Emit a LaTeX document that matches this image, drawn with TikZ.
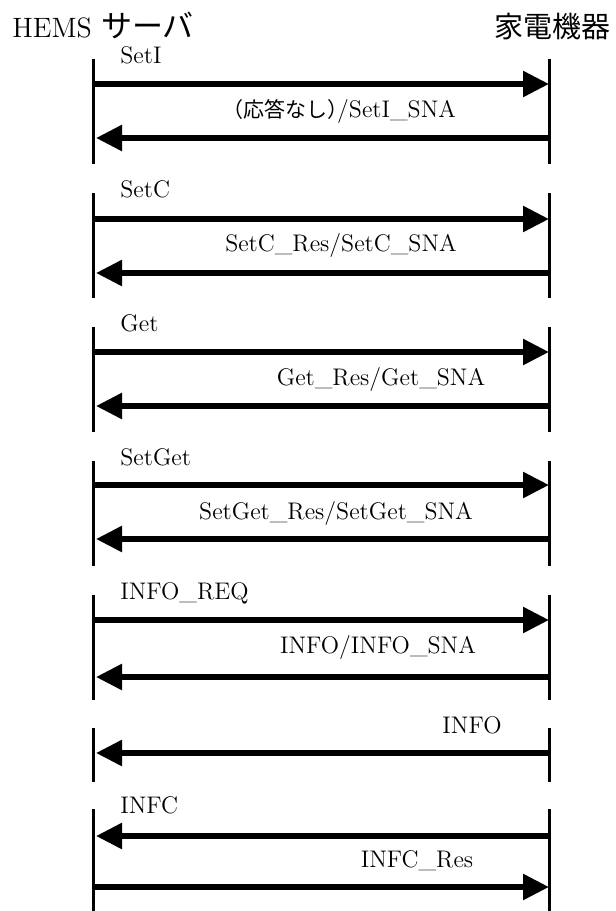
\documentclass[tikz,border=0pt]{standalone}
\usepackage{fontspec}
\newfontfamily\jp{Noto Sans CJK JP}
\usepackage{tikz}
\usetikzlibrary{arrows.meta}

\begin{document}
\begin{tikzpicture}[x=0.5pt, y=-0.5pt,
        lifeline/.style={line width=1.5pt},
        msg/.style={line width=2.8pt, -{Triangle[length=13pt,width=12.5pt]}},
        msgback/.style={msg, shorten >=1.5pt},
        lbl/.style={inner sep=0pt, anchor=base west, font=\fontsize{12}{14}\selectfont},
        res/.style={inner sep=0pt, anchor=base, font=\fontsize{12}{14}\selectfont}]
        \useasboundingbox (0,0) rectangle (616,911);

        % the two parties
        \node[inner sep=0pt, anchor=base west, font=\fontsize{14}{16}\selectfont] (hems) at (12,37) {HEMS {\jp\fontsize{15.5}{16}\selectfont サーバ}};
        \node[inner sep=0pt, anchor=base east, font=\jp\fontsize{14.5}{16}\selectfont] (dev) at (611,37) {家電機器};

        % lifeline pieces, one pair per exchange: hs/he on the server side, ds/de on the device side
        \foreach \n/\t/\e in {1/59/164, 2/193/298, 3/327/432, 4/461/566, 5/595/700, 6/728/782, 7/809/911}{
            \coordinate (hs\n) at (93,\t);  \coordinate (he\n) at (93,\e);
            \coordinate (ds\n) at (549,\t); \coordinate (de\n) at (549,\e);
            \draw[lifeline] (hs\n) -- (he\n) (ds\n) -- (de\n);
        }
        % where each message meets the two lifelines
        \foreach \m/\y in {1a/84, 1b/138, 2a/219, 2b/273, 3a/352, 3b/406, 4a/485, 4b/539, 5a/620, 5b/677, 6a/753, 7a/836, 7b/887}{
            \coordinate (h\m) at (93,\y); \coordinate (d\m) at (549,\y);
        }

        \node[lbl] (seti) at (120,63) {SetI};
        \node[res] (setires) at (339,117) {{\jp\fontsize{10.5}{11}\selectfont （応答なし）}\kern-.45em/SetI\_SNA};
        \draw[msg] (h1a) -- (d1a);          % SetI
        \draw[msgback] (d1b) -- (h1b);      % no answer / SetI_SNA

        \node[lbl] (setc) at (120,197) {SetC};
        \node[res] (setcres) at (341,251) {SetC\_Res/SetC\_SNA};
        \draw[msg] (h2a) -- (d2a);          % SetC
        \draw[msgback] (d2b) -- (h2b);      % SetC_Res / SetC_SNA

        \node[lbl] (get) at (120,331) {Get};
        \node[res] (getres) at (381,385) {Get\_Res/Get\_SNA};
        \draw[msg] (h3a) -- (d3a);          % Get
        \draw[msgback] (d3b) -- (h3b);      % Get_Res / Get_SNA

        \node[lbl] (setget) at (120,465) {SetGet};
        \node[res] (setgetres) at (336,519) {SetGet\_Res/SetGet\_SNA};
        \draw[msg] (h4a) -- (d4a);          % SetGet
        \draw[msgback] (d4b) -- (h4b);      % SetGet_Res / SetGet_SNA

        \node[lbl] (inforeq) at (120,599) {INFO\_REQ};
        \node[res] (infores) at (378,653) {INFO/INFO\_SNA};
        \draw[msg] (h5a) -- (d5a);          % INFO_REQ
        \draw[msgback] (d5b) -- (h5b);      % INFO / INFO_SNA

        \node[res] (info) at (472,733) {INFO};
        \draw[msgback] (d6a) -- (h6a);      % INFO, device to server

        \node[lbl] (infc) at (120,813) {INFC};
        \node[res] (infcres) at (417,867) {INFC\_Res};
        \draw[msgback] (d7a) -- (h7a);      % INFC
        \draw[msg] (h7b) -- (d7b);          % INFC_Res
\end{tikzpicture}
\end{document}
